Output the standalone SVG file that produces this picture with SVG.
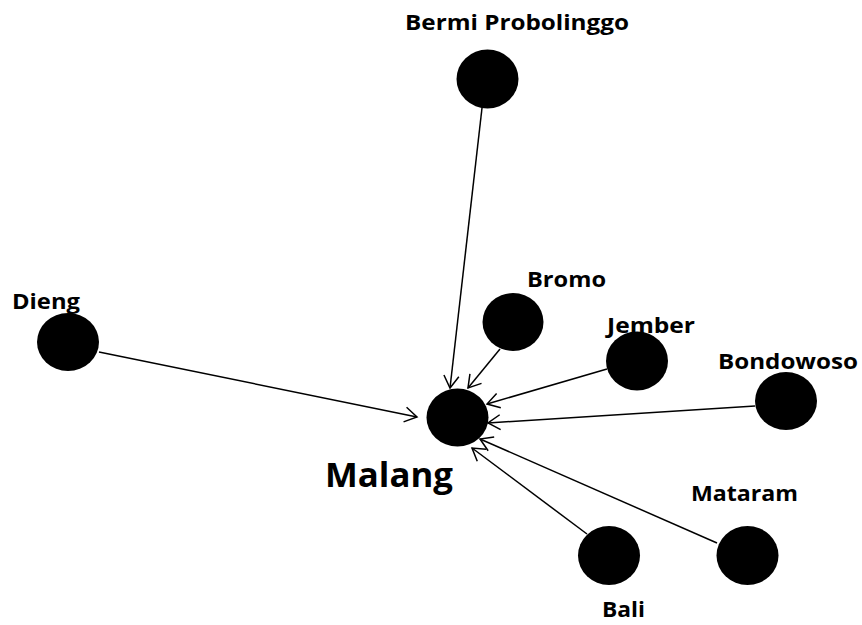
<svg xmlns="http://www.w3.org/2000/svg" width="862" height="625" viewBox="0 0 862 625">
<style>
.node{fill:#000}
.lbl{font-family:"Open Sans","Noto Sans",sans-serif;font-weight:bold;font-size:22px;fill:#000}
.big{font-size:34px}
.edge{stroke:#000;stroke-width:1.5;fill:none;marker-end:url(#arr)}
</style>
<defs>
<marker id="arr" markerUnits="userSpaceOnUse" markerWidth="30" markerHeight="30" refX="0" refY="0" viewBox="-16 -15 32 30" orient="auto" overflow="visible">
<path d="M-13,-8 L0,0 L-13,8" fill="none" stroke="#000" stroke-width="1.6"/>
</marker>
</defs>
<rect width="862" height="625" fill="#fff"/>
<g id="edges">
<line class="edge" x1="482" y1="108" x2="450" y2="388"/>
<line class="edge" x1="500" y1="349" x2="468" y2="388"/>
<line class="edge" x1="607" y1="369" x2="487" y2="404"/>
<line class="edge" x1="755" y1="406" x2="488" y2="423"/>
<line class="edge" x1="99" y1="352" x2="417" y2="417"/>
<line class="edge" x1="587" y1="534" x2="472" y2="448"/>
<line class="edge" x1="717" y1="543" x2="480" y2="439"/>
</g>
<g id="malang"><ellipse class="node" cx="457.5" cy="417.5" rx="31" ry="29"/><text class="lbl big" x="325" y="487" textLength="128" lengthAdjust="spacingAndGlyphs">Malang</text></g>
<g id="bermi"><ellipse class="node" cx="487.5" cy="79" rx="31" ry="29.5"/><text class="lbl" x="405" y="30" textLength="224" lengthAdjust="spacingAndGlyphs">Bermi Probolinggo</text></g>
<g id="dieng"><ellipse class="node" cx="68" cy="342" rx="31" ry="29"/><text class="lbl" x="12" y="309" textLength="68" lengthAdjust="spacingAndGlyphs">Dieng</text></g>
<g id="bromo"><ellipse class="node" cx="513" cy="322" rx="30.5" ry="29"/><text class="lbl" x="527" y="287" textLength="79" lengthAdjust="spacingAndGlyphs">Bromo</text></g>
<g id="jember"><ellipse class="node" cx="637" cy="361" rx="31" ry="29.5"/><text class="lbl" x="607" y="333" textLength="88" lengthAdjust="spacingAndGlyphs">Jember</text></g>
<g id="bondowoso"><ellipse class="node" cx="786" cy="401" rx="31" ry="29"/><text class="lbl" x="718" y="369" textLength="140" lengthAdjust="spacingAndGlyphs">Bondowoso</text></g>
<g id="bali"><ellipse class="node" cx="609" cy="555.5" rx="31" ry="29.5"/><text class="lbl" x="602" y="617" textLength="43" lengthAdjust="spacingAndGlyphs">Bali</text></g>
<g id="mataram"><ellipse class="node" cx="747.5" cy="555.5" rx="31" ry="29.5"/><text class="lbl" x="691" y="501" textLength="107" lengthAdjust="spacingAndGlyphs">Mataram</text></g>
</svg>
